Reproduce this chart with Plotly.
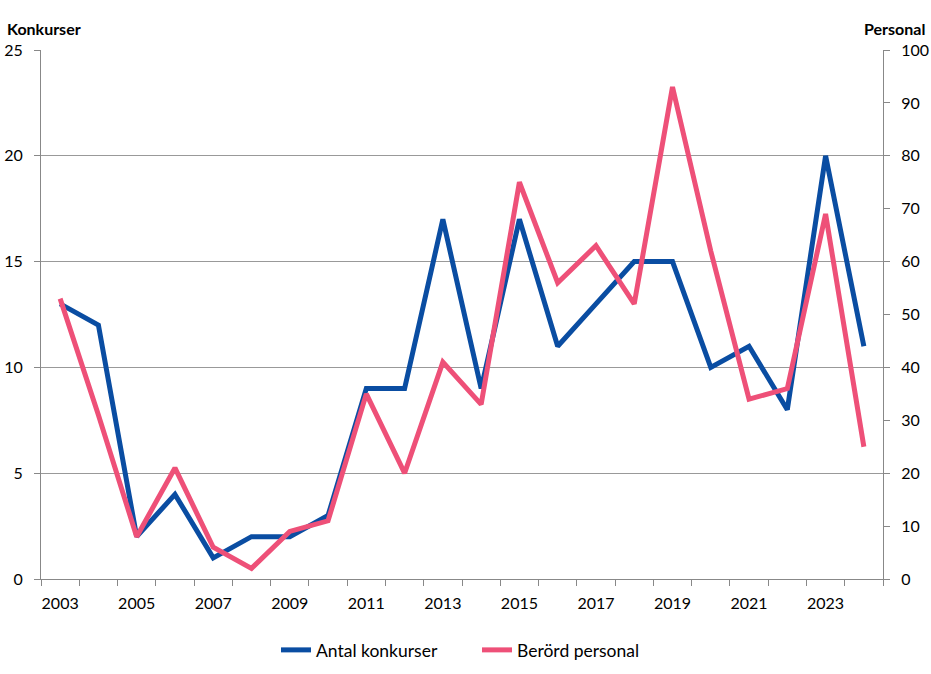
import plotly.graph_objects as go

years = list(range(2003, 2025))
antal_konkurser = [13, 12, 2, 4, 1, 2, 2, 3, 9, 9, 17, 9, 17, 11, 13, 15, 15, 10, 11, 8, 20, 11]
berord_personal = [53, 31, 8, 21, 6, 2, 9, 11, 35, 20, 41, 33, 75, 56, 63, 52, 93, 62, 34, 36, 69, 25]
label_years = list(range(2003, 2025, 2))

FONT = "Lato"
fig = go.Figure()
fig.add_trace(go.Scatter(x=years, y=antal_konkurser, name="Antal konkurser", mode="lines",
                         line=dict(color="#0A4DA2", width=5)))
fig.add_trace(go.Scatter(x=years, y=berord_personal, name="Berörd personal", mode="lines",
                         line=dict(color="#EE5078", width=5), yaxis="y2"))

fig.update_layout(
    width=931, height=674,
    margin=dict(l=41, r=48, t=50, b=95),
    plot_bgcolor="white", paper_bgcolor="white",
    font=dict(family=FONT, size=16, color="black"),
    showlegend=True,
    legend=dict(orientation="h", xref="container", x=477/931, xanchor="center",
                yref="container", y=1 - 650/674, yanchor="middle",
                font=dict(size=17.5), itemwidth=30, tracegroupgap=0,
                entrywidth=156, entrywidthmode="pixels"),
    xaxis=dict(range=[2002.5, 2024.5], tickvals=label_years, ticktext=[str(y) for y in label_years],
               ticks="", showgrid=False, showline=True, linecolor="#888888", linewidth=1,
               zeroline=False, automargin=False, ticklabelstandoff=10,
               minor=dict(tick0=2002.5, dtick=1, ticks="outside", ticklen=6, tickcolor="#888888", showgrid=False)),
    yaxis=dict(range=[0, 25], dtick=5, showgrid=True, gridcolor="#999999", gridwidth=1,
               showline=True, linecolor="#888888", ticks="outside", ticklen=6, tickcolor="#888888",
               zeroline=False, automargin=False, ticklabelstandoff=8),
    yaxis2=dict(range=[0, 100], dtick=10, overlaying="y", side="right", showgrid=False,
                showline=True, linecolor="#888888", ticks="outside", ticklen=6, tickcolor="#888888",
                zeroline=False, automargin=False, ticklabelstandoff=8),
    annotations=[
        dict(text="<b>Konkurser</b>", xref="paper", yref="paper", x=-36/842, xanchor="left",
             y=1, yshift=10, yanchor="bottom", showarrow=False, font=dict(size=16)),
        dict(text="<b>Personal</b>", xref="paper", yref="paper", x=(842+44)/842, xanchor="right",
             y=1, yshift=10, yanchor="bottom", showarrow=False, font=dict(size=16)),
    ],
)
fig.write_html("out.html", config={"displayModeBar": False},
               post_script="document.body.style.margin='0';")
